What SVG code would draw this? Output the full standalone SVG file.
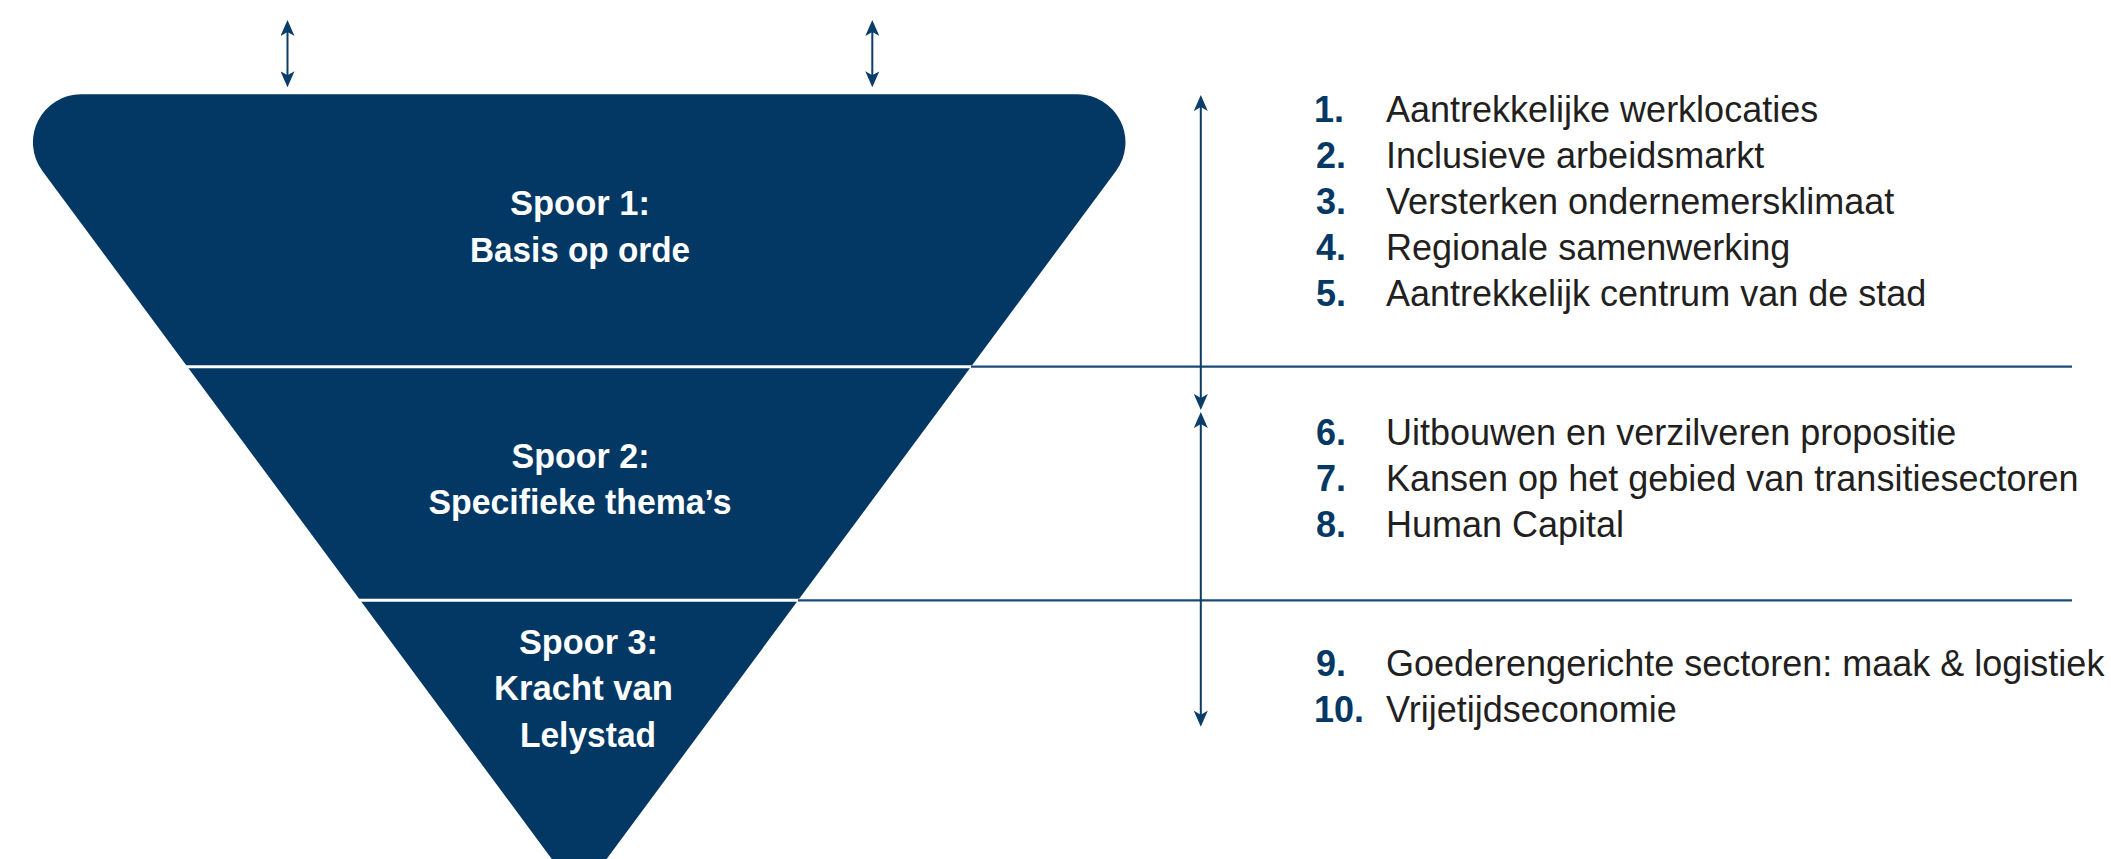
<svg xmlns="http://www.w3.org/2000/svg" width="2111" height="859" viewBox="0 0 2111 859">
  <style>
    .title { font-family: "Liberation Sans", Arial, sans-serif; font-weight: bold; font-size: 35px; fill: #ffffff; text-anchor: middle; }
    .num { font-family: "Liberation Sans", Arial, sans-serif; font-weight: bold; font-size: 36px; fill: #053864; }
    .item { font-family: "Liberation Sans", Arial, sans-serif; font-size: 36px; fill: #231f20; }
    .arrow { stroke: #0b3d6b; stroke-width: 2; fill: none; marker-start: url(#head); marker-end: url(#head); }
    .rule { stroke: #1c4a78; stroke-width: 2.2; fill: none; }
    .cut { stroke: #ffffff; stroke-width: 3; fill: none; }
  </style>
  <defs>
    <marker id="head" viewBox="0 0 16 14" refX="12" refY="7" markerWidth="16" markerHeight="14" markerUnits="userSpaceOnUse" orient="auto-start-reverse">
      <path d="M0,0 L16,7 L0,14 L4,7 Z" fill="#0b3d6b"/>
    </marker>
  </defs>
  <rect width="2111" height="859" fill="#ffffff"/>

  <g id="funnel">
    <path d="M 81 94.3 H 1077.4 A 48 48 0 0 1 1116 170.9 L 599.3 868.9 A 25 25 0 0 1 559.1 868.9 L 42.4 170.9 A 48 48 0 0 1 81 94.3 Z" fill="#033864"/>
    <line class="cut" x1="180" y1="366.7" x2="972" y2="366.7"/>
    <line class="cut" x1="350" y1="600.3" x2="800" y2="600.3"/>
  </g>

  <g id="spoor1">
    <text class="title" x="580" y="215" textLength="140" lengthAdjust="spacingAndGlyphs">Spoor 1:</text>
    <text class="title" x="580" y="261.7" textLength="220" lengthAdjust="spacingAndGlyphs">Basis op orde</text>
  </g>
  <g id="spoor2">
    <text class="title" x="580.5" y="468.3" textLength="138" lengthAdjust="spacingAndGlyphs">Spoor 2:</text>
    <text class="title" x="580" y="514" textLength="303" lengthAdjust="spacingAndGlyphs">Specifieke thema’s</text>
  </g>
  <g id="spoor3">
    <text class="title" x="588.5" y="654" textLength="139" lengthAdjust="spacingAndGlyphs">Spoor 3:</text>
    <text class="title" x="583.5" y="700" textLength="179" lengthAdjust="spacingAndGlyphs">Kracht van</text>
    <text class="title" x="588" y="746.7" textLength="136" lengthAdjust="spacingAndGlyphs">Lelystad</text>
  </g>

  <g id="list1">
    <text class="num" x="1314" y="121.7">1.</text><text class="item" x="1386" y="121.7">Aantrekkelijke werklocaties</text>
    <text class="num" x="1316" y="167.7">2.</text><text class="item" x="1386" y="167.7">Inclusieve arbeidsmarkt</text>
    <text class="num" x="1316" y="213.5">3.</text><text class="item" x="1386" y="213.5">Versterken ondernemersklimaat</text>
    <text class="num" x="1316" y="259.5">4.</text><text class="item" x="1386" y="259.5">Regionale samenwerking</text>
    <text class="num" x="1316" y="306">5.</text><text class="item" x="1386" y="306">Aantrekkelijk centrum van de stad</text>
  </g>
  <g id="list2">
    <text class="num" x="1316" y="445">6.</text><text class="item" x="1386" y="445">Uitbouwen en verzilveren propositie</text>
    <text class="num" x="1316" y="491">7.</text><text class="item" x="1386" y="491">Kansen op het gebied van transitiesectoren</text>
    <text class="num" x="1316" y="536.7">8.</text><text class="item" x="1386" y="536.7">Human Capital</text>
  </g>
  <g id="list3">
    <text class="num" x="1316" y="676">9.</text><text class="item" x="1386" y="676">Goederengerichte sectoren: maak &amp; logistiek</text>
    <text class="num" x="1314" y="721.7">10.</text><text class="item" x="1386" y="721.7">Vrijetijdseconomie</text>
  </g>

  <g id="connectors">
    <line class="rule" x1="971" y1="366.7" x2="2072" y2="366.7"/>
    <line class="rule" x1="798" y1="600.3" x2="2072" y2="600.3"/>
    <line class="arrow" x1="287.5" y1="24" x2="287.5" y2="83.3"/>
    <line class="arrow" x1="872.3" y1="24" x2="872.3" y2="83.3"/>
    <line class="arrow" x1="1200.8" y1="99" x2="1200.8" y2="406"/>
    <line class="arrow" x1="1200.8" y1="416" x2="1200.8" y2="722.7"/>
  </g>
</svg>
